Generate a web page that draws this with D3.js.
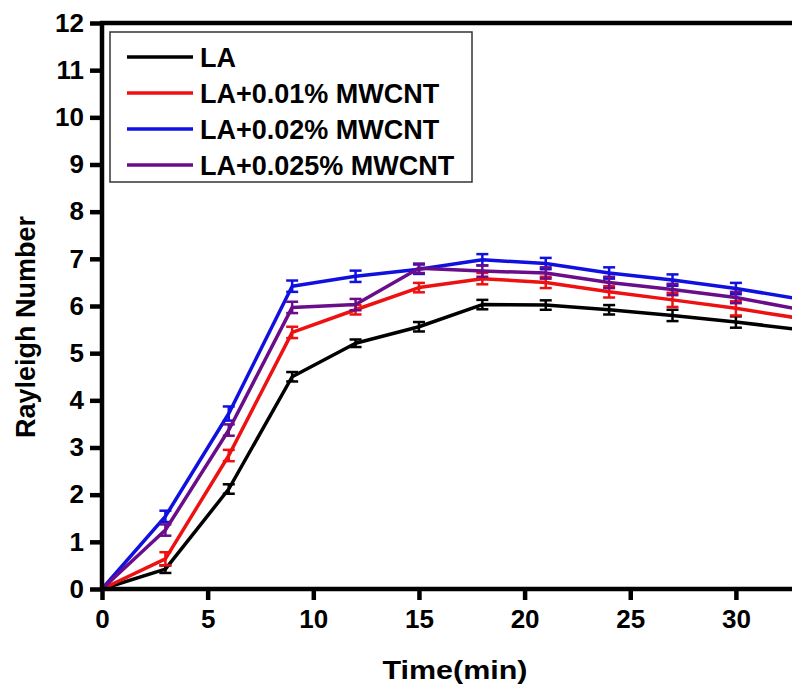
<!DOCTYPE html>
<html>
<head>
<meta charset="utf-8">
<script src="https://cdn.jsdelivr.net/npm/d3@7"></script>
<style>
  body { margin: 0; background: #fff; }
  svg { display: block; font-family: "Liberation Sans", Arial, sans-serif; font-weight: bold; }
</style>
</head>
<body>
<div id="chart"></div>
<script>
// time points (min)
var times = [0, 3, 6, 9, 12, 15, 18, 21, 24, 27, 30, 33];

// Rayleigh number per sample
var la      = [0, 0.42, 2.12, 4.50, 5.21, 5.56, 6.03, 6.02, 5.92, 5.80, 5.66, 5.50];
var la001   = [0, 0.64, 2.83, 5.44, 5.92, 6.39, 6.58, 6.50, 6.30, 6.13, 5.95, 5.74];
var la002   = [0, 1.54, 3.72, 6.42, 6.63, 6.78, 6.98, 6.90, 6.70, 6.55, 6.37, 6.15];
var la0025  = [0, 1.25, 3.37, 5.97, 6.03, 6.80, 6.74, 6.70, 6.50, 6.35, 6.18, 5.93];

// error bar half-heights
var errLa     = [0, 0.08, 0.10, 0.10, 0.08, 0.10, 0.10, 0.10, 0.10, 0.12, 0.12, 0.12];
var errLa001  = [0, 0.14, 0.12, 0.12, 0.10, 0.10, 0.12, 0.12, 0.12, 0.15, 0.15, 0.15];
var errLa002  = [0, 0.12, 0.15, 0.12, 0.12, 0.10, 0.12, 0.12, 0.12, 0.12, 0.12, 0.12];
var errLa0025 = [0, 0.12, 0.12, 0.12, 0.12, 0.10, 0.12, 0.12, 0.12, 0.12, 0.12, 0.12];

var seriesNames = ["LA", "LA+0.01% MWCNT", "LA+0.02% MWCNT", "LA+0.025% MWCNT"];
var colors = ["#000000", "#ee1111", "#1010e0", "#6a0d8a"];

var xTicks = [0, 5, 10, 15, 20, 25, 30];
var yTicks = d3.range(0, 13);

var series = [
  {name: seriesNames[0], values: la, err: errLa, color: colors[0]},
  {name: seriesNames[1], values: la001, err: errLa001, color: colors[1]},
  {name: seriesNames[2], values: la002, err: errLa002, color: colors[2]},
  {name: seriesNames[3], values: la0025, err: errLa0025, color: colors[3]}
];

var width = 792, height = 688;

var svg = d3.select("#chart").append("svg")
    .attr("width", width)
    .attr("height", height);

var x = d3.scaleLinear().domain([0, 35]).range([102, 102 + 35 * 21.13]);
var y = d3.scaleLinear().domain([0, 12]).range([589, 23]);

// series lines
var line = d3.line()
    .x(function(d) { return x(d[0]); })
    .y(function(d) { return y(d[1]); });

var g = svg.append("g");

series.forEach(function(s) {
  var pts = times.map(function(t, i) { return [t, s.values[i], s.err[i]]; });
  var sg = g.append("g");
  sg.append("path")
      .datum(pts)
      .attr("fill", "none")
      .attr("stroke", s.color)
      .attr("stroke-width", 3.5)
      .attr("stroke-linejoin", "round")
      .attr("d", line);

  var eb = sg.selectAll(".err")
      .data(pts.filter(function(d) { return d[2] > 0; }))
      .enter().append("g")
      .attr("stroke", s.color)
      .attr("stroke-width", 2.5);
  eb.append("line")
      .attr("x1", function(d) { return x(d[0]); })
      .attr("x2", function(d) { return x(d[0]); })
      .attr("y1", function(d) { return y(d[1] - d[2]); })
      .attr("y2", function(d) { return y(d[1] + d[2]); });
  [-1, 1].forEach(function(sign) {
    eb.append("line")
        .attr("x1", function(d) { return x(d[0]) - 6; })
        .attr("x2", function(d) { return x(d[0]) + 6; })
        .attr("y1", function(d) { return y(d[1] + sign * d[2]); })
        .attr("y2", function(d) { return y(d[1] + sign * d[2]); });
  });
});

// axes
var xAxis = svg.append("g")
    .attr("transform", "translate(0," + y(0) + ")")
    .call(d3.axisBottom(x).tickValues(xTicks).tickSize(11).tickPadding(10).tickSizeOuter(0));
var yAxis = svg.append("g")
    .attr("transform", "translate(" + x(0) + ",0)")
    .call(d3.axisLeft(y).tickValues(yTicks).tickSize(12).tickPadding(6).tickSizeOuter(0));

[xAxis, yAxis].forEach(function(ax) {
  ax.select(".domain").attr("stroke", "#000").attr("stroke-width", 4.5);
  ax.selectAll(".tick line").attr("stroke", "#000").attr("stroke-width", 4.5);
  ax.selectAll(".tick text")
      .attr("fill", "#000")
      .style("font-size", "26px")
      .style("font-weight", "bold")
      .style("font-family", "'Liberation Sans', Arial, sans-serif");
});
xAxis.select(".domain").attr("d", "M" + (x(0) - 2) + ",0H" + (width + 10));
yAxis.select(".domain").attr("d", "M0," + (y(0) + 2) + "V" + (y(12) - 2));

// top frame line
svg.append("line")
    .attr("x1", x(0) - 2).attr("x2", width + 10)
    .attr("y1", y(12)).attr("y2", y(12))
    .attr("stroke", "#000").attr("stroke-width", 4.5);

// axis titles
svg.append("text")
    .attr("x", 455)
    .attr("y", 679)
    .attr("text-anchor", "middle")
    .attr("textLength", 145)
    .attr("lengthAdjust", "spacingAndGlyphs")
    .style("font-size", "26px")
    .text("Time(min)");

svg.append("text")
    .attr("transform", "translate(35,327) rotate(-90)")
    .attr("text-anchor", "middle")
    .style("font-size", "27px")
    .text("Rayleigh Number");

// legend
var legend = svg.append("g");
legend.append("rect")
    .attr("x", 110).attr("y", 32)
    .attr("width", 362).attr("height", 150)
    .attr("fill", "#fff")
    .attr("stroke", "#333")
    .attr("stroke-width", 1.5);

var items = legend.selectAll(".item")
    .data(series)
    .enter().append("g")
    .attr("transform", function(d, i) { return "translate(0," + (57 + i * 36) + ")"; });
items.append("line")
    .attr("x1", 127).attr("x2", 193)
    .attr("stroke", function(d) { return d.color; })
    .attr("stroke-width", 3.5);
items.append("text")
    .attr("x", 200)
    .attr("y", 9.5)
    .style("font-size", "27px")
    .text(function(d) { return d.name; });
</script>
</body>
</html>
